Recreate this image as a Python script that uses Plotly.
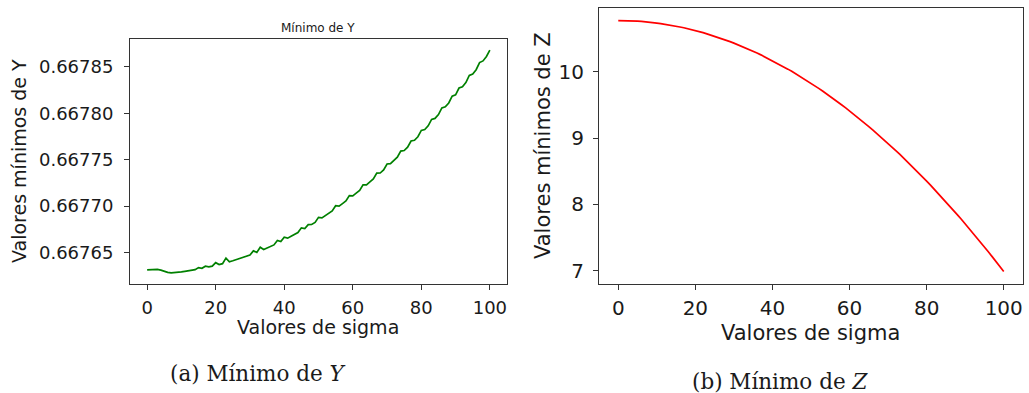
import plotly.graph_objects as go

# sigma values (shared x axis)
sigma = list(range(0, 101))

# Minimum of Y for each sigma
min_y = [
    0.6676313, 0.6676314, 0.6676316, 0.6676318, 0.6676310, 0.6676297, 0.6676286, 0.6676280, 0.6676281, 0.6676284,
    0.6676290, 0.6676296, 0.6676302, 0.6676308, 0.6676314, 0.6676337, 0.6676329, 0.6676351, 0.6676344, 0.6676352,
    0.6676390, 0.6676369, 0.6676379, 0.6676439, 0.6676399, 0.6676410, 0.6676422, 0.6676434, 0.6676446, 0.6676459,
    0.6676473, 0.6676517, 0.6676501, 0.6676556, 0.6676532, 0.6676548, 0.6676564, 0.6676581, 0.6676629, 0.6676617,
    0.6676665, 0.6676654, 0.6676674, 0.6676694, 0.6676714, 0.6676765, 0.6676757, 0.6676799, 0.6676801, 0.6676824,
    0.6676878, 0.6676872, 0.6676896, 0.6676921, 0.6676947, 0.6677003, 0.6676999, 0.6677026, 0.6677054, 0.6677112,
    0.6677110, 0.6677139, 0.6677169, 0.6677229, 0.6677229, 0.6677260, 0.6677292, 0.6677354, 0.6677356, 0.6677389,
    0.6677453, 0.6677457, 0.6677491, 0.6677526, 0.6677592, 0.6677598, 0.6677634, 0.6677701, 0.6677709, 0.6677747,
    0.6677815, 0.6677824, 0.6677864, 0.6677934, 0.6677944, 0.6677985, 0.6678057, 0.6678069, 0.6678111, 0.6678184,
    0.6678198, 0.6678272, 0.6678286, 0.6678331, 0.6678407, 0.6678423, 0.6678469, 0.6678546, 0.6678564, 0.6678612,
    0.6678680,
]

# Minimum of Z for each sigma
min_z = [
    10.770, 10.770, 10.768, 10.767, 10.764, 10.761, 10.756, 10.752, 10.746, 10.739,
    10.732, 10.724, 10.716, 10.706, 10.696, 10.685, 10.673, 10.661, 10.648, 10.634,
    10.619, 10.603, 10.587, 10.570, 10.552, 10.534, 10.514, 10.494, 10.474, 10.452,
    10.430, 10.407, 10.383, 10.358, 10.333, 10.307, 10.280, 10.253, 10.224, 10.195,
    10.165, 10.135, 10.103, 10.071, 10.038, 10.005, 9.970, 9.935, 9.899, 9.862,
    9.825, 9.787, 9.748, 9.708, 9.668, 9.627, 9.585, 9.542, 9.498, 9.454,
    9.409, 9.364, 9.317, 9.270, 9.222, 9.173, 9.123, 9.073, 9.022, 8.970,
    8.918, 8.865, 8.810, 8.756, 8.700, 8.644, 8.587, 8.529, 8.470, 8.411,
    8.351, 8.290, 8.228, 8.166, 8.103, 8.039, 7.974, 7.909, 7.843, 7.776,
    7.708, 7.640, 7.571, 7.501, 7.430, 7.359, 7.286, 7.213, 7.140, 7.065,
    6.990,
]

x_ticks = [0, 20, 40, 60, 80, 100]
y_ticks_left = [0.66765, 0.66770, 0.66775, 0.66780, 0.66785]
y_ticks_right = [7, 8, 9, 10]

W, H = 1029, 393
def px(x):
    return x / W
def py(y):
    return 1 - y / H

FONT = "DejaVu Sans"
AXC = "#333333"
TXT = "#1a1a1a"

fig = go.Figure()
fig.add_trace(go.Scatter(x=sigma, y=min_y, mode="lines",
                         line=dict(color="#008000", width=1.7), showlegend=False,
                         xaxis="x", yaxis="y"))
fig.add_trace(go.Scatter(x=sigma, y=min_z, mode="lines",
                         line=dict(color="#ff0000", width=1.7), showlegend=False,
                         xaxis="x2", yaxis="y2"))

ymin, ymax = min(min_y), max(min_y)
pad = (ymax - ymin) * 0.05
zmin, zmax = min(min_z), max(min_z)
zpad = (zmax - zmin) * 0.05

common = dict(showline=True, mirror=True, linecolor=AXC, linewidth=1,
              ticks="outside", ticklen=5, tickcolor=AXC, tickwidth=1,
              showgrid=False, zeroline=False)

fig.update_layout(
    width=W, height=H,
    margin=dict(l=0, r=0, t=0, b=0),
    paper_bgcolor="white", plot_bgcolor="white",
    font=dict(family=FONT, color=TXT),
    xaxis=dict(domain=[px(130), px(507)], range=[-5, 105], tickvals=x_ticks,
               tickfont=dict(size=18, color=TXT), ticklabelstandoff=2, anchor="y", **common),
    yaxis=dict(domain=[py(284), py(39)], range=[ymin - pad, ymax + pad],
               tickvals=y_ticks_left, tickformat=".5f", ticklabelstandoff=7,
               tickfont=dict(size=18, color=TXT), anchor="x", **common),
    xaxis2=dict(domain=[px(599), px(1023)], range=[-5, 105], tickvals=x_ticks,
                tickfont=dict(size=20, color=TXT), ticklabelstandoff=1, anchor="y2", **common),
    yaxis2=dict(domain=[py(284), py(8)], range=[zmin - zpad, zmax + zpad],
                tickvals=y_ticks_right, ticklabelstandoff=5,
                tickfont=dict(size=20, color=TXT), anchor="x2", **common),
)

ann = []
# panel title
ann.append(dict(text="Mínimo de Y", x=px(318), y=py(28), xref="paper", yref="paper",
                showarrow=False, font=dict(size=12, family=FONT, color=TXT),
                xanchor="center", yanchor="middle"))
# axis titles
ann.append(dict(text="Valores de sigma", x=px(318), y=py(327), xref="paper", yref="paper",
                showarrow=False, font=dict(size=19, family=FONT, color=TXT),
                xanchor="center", yanchor="middle"))
ann.append(dict(text="Valores mínimos de Y", x=px(19), y=py(161), xref="paper", yref="paper",
                showarrow=False, textangle=-90, font=dict(size=19, family=FONT, color=TXT),
                xanchor="center", yanchor="middle"))
ann.append(dict(text="Valores de sigma", x=px(810), y=py(333), xref="paper", yref="paper",
                showarrow=False, font=dict(size=21, family=FONT, color=TXT),
                xanchor="center", yanchor="middle"))
ann.append(dict(text="Valores mínimos de Z", x=px(543), y=py(146), xref="paper", yref="paper",
                showarrow=False, textangle=-90, font=dict(size=21, family=FONT, color=TXT),
                xanchor="center", yanchor="middle"))
# captions
ann.append(dict(text="(a) Mínimo de <i>Y</i>", x=px(258), y=py(373), xref="paper", yref="paper",
                showarrow=False, font=dict(size=21.5, family="DejaVu Serif", color=TXT),
                xanchor="center", yanchor="middle"))
ann.append(dict(text="(b) Mínimo de <i>Z</i>", x=px(780), y=py(381), xref="paper", yref="paper",
                showarrow=False, font=dict(size=21.5, family="DejaVu Serif", color=TXT),
                xanchor="center", yanchor="middle"))
fig.update_layout(annotations=ann)

fig.write_html("out.html")
